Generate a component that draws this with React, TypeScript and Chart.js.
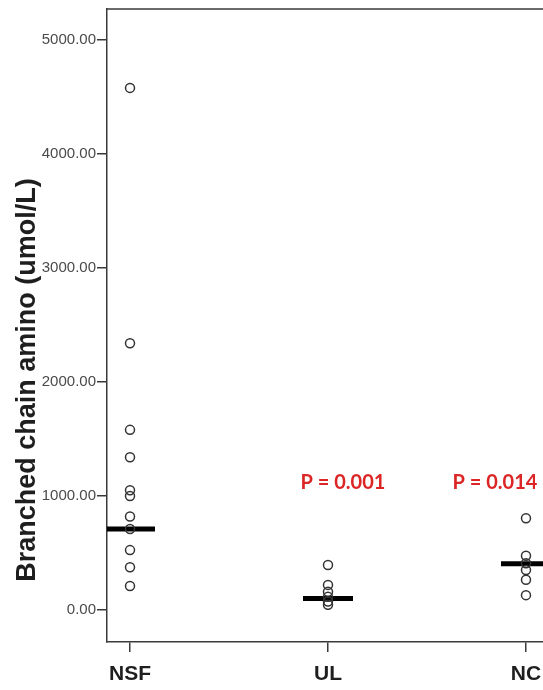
import React, { useEffect, useRef } from "react";
import { Chart, registerables } from "chart.js";

Chart.register(...registerables);

const categories = ["NSF", "UL", "NC"];
const nsfValues = [4580, 2340, 1580, 1340, 1050, 1000, 820, 710, 525, 375, 210];
const ulValues = [395, 220, 160, 115, 75, 45];
const ncValues = [805, 475, 410, 350, 265, 130];
const medianValues = [710, 100, 405];
const pLabels = ["", "P = 0.001", "P = 0.014"];
const yTickValues = [0, 1000, 2000, 3000, 4000, 5000];
const yTitle = "Branched chain amino (umol/L)";

const extrasPlugin = {
  id: "extras",
  afterDraw(chart: any) {
    const { ctx, chartArea, scales } = chart;
    ctx.save();
    // top frame line
    ctx.strokeStyle = "#3a3a3a";
    ctx.lineWidth = 1.5;
    ctx.beginPath();
    ctx.moveTo(chartArea.left, chartArea.top);
    ctx.lineTo(chartArea.right + 2, chartArea.top);
    ctx.stroke();
    // y title
    ctx.fillStyle = "#1e1e1e";
    ctx.font = "bold 27px 'Liberation Sans', Arial, sans-serif";
    ctx.textAlign = "center";
    ctx.textBaseline = "middle";
    ctx.translate(28, 380);
    ctx.rotate(-Math.PI / 2);
    ctx.fillText(yTitle, 0, 0);
    ctx.restore();
    // P labels
    ctx.save();
    ctx.fillStyle = "#dc2626";
    ctx.font = "bold 20px Lato, 'Liberation Sans', sans-serif";
    ctx.textAlign = "center";
    ctx.textBaseline = "middle";
    const offsets = [0, 15, -31];
    pLabels.forEach((t, i) => {
      if (!t) return;
      const x = scales.x.getPixelForValue(i + 1) + offsets[i];
      const y = scales.y.getPixelForValue(1115);
      ctx.fillText(t, x, y);
    });
    ctx.restore();
  },
};

export default function App() {
  const ref = useRef<HTMLCanvasElement>(null);
  useEffect(() => {
    if (!ref.current) return;
    const pointDs = (vals: number[], idx: number) => ({
      type: "scatter" as const,
      data: vals.map((v) => ({ x: idx + 1, y: v })),
      pointStyle: "circle",
      pointRadius: 4.5,
      pointBorderWidth: 1.5,
      pointBorderColor: "#333333",
      pointBackgroundColor: "rgba(255,255,255,0)",
      borderColor: "#333333",
      backgroundColor: "rgba(255,255,255,0)",
      showLine: false,
    });
    const chart = new Chart(ref.current, {
      type: "scatter",
      data: {
        datasets: [
          pointDs(nsfValues, 0),
          pointDs(ulValues, 1),
          pointDs(ncValues, 2),
          {
            type: "scatter",
            data: medianValues.map((v, i) => ({ x: i + 1, y: v })),
            pointStyle: "line",
            pointRadius: 25,
            pointBorderWidth: 5,
            pointBorderColor: "#000000",
            borderColor: "#000000",
            showLine: false,
          } as any,
        ],
      },
      options: {
        animation: false,
        responsive: false,
        layout: { autoPadding: false, padding: { top: 9, left: 0, right: 0, bottom: 0 } },
        plugins: { legend: { display: false }, tooltip: { enabled: false } },
        scales: {
          x: {
            type: "linear",
            min: 0.8838,
            max: 3.0859,
            afterBuildTicks: (s: any) => {
              s.ticks = categories.map((_, i) => ({ value: i + 1 }));
            },
            afterFit: (s: any) => {
              s.height = 48;
              s.paddingLeft = 0;
              s.paddingRight = 0;
            },
            grid: {
              drawOnChartArea: false,
              drawTicks: true,
              tickLength: 10,
              color: "#3a3a3a",
              lineWidth: 1.5,
            },
            border: { display: true, color: "#3a3a3a", width: 1.5 },
            ticks: {
              autoSkip: false,
              maxRotation: 0,
              padding: 10,
              color: "#1e1e1e",
              font: { family: "'Liberation Sans', Arial, sans-serif", size: 21, weight: "bold" },
              callback: (v: any) => categories[Math.round(Number(v)) - 1] ?? "",
            },
          },
          y: {
            type: "linear",
            min: -281,
            max: 5272,
            afterBuildTicks: (s: any) => {
              s.ticks = yTickValues.map((v) => ({ value: v }));
            },
            afterFit: (s: any) => {
              s.width = 107;
              s.paddingTop = 0;
              s.paddingBottom = 0;
            },
            grid: {
              drawOnChartArea: false,
              drawTicks: true,
              tickLength: 10,
              color: "#3a3a3a",
              lineWidth: 1.5,
            },
            border: { display: true, color: "#3a3a3a", width: 1.5 },
            ticks: {
              padding: 1,
              color: "#4a4a4a",
              font: { family: "'Liberation Sans', Arial, sans-serif", size: 15 },
              callback: (v: any) => Number(v).toFixed(2),
            },
          },
        },
      },
      plugins: [extrasPlugin],
    });
    return () => chart.destroy();
  }, []);
  return (
    <div style={{ position: "absolute", left: 0, top: 0, width: 543, height: 690, background: "#ffffff" }}>
      <canvas ref={ref} width={543} height={690} style={{ width: 543, height: 690, display: "block" }} />
    </div>
  );
}
